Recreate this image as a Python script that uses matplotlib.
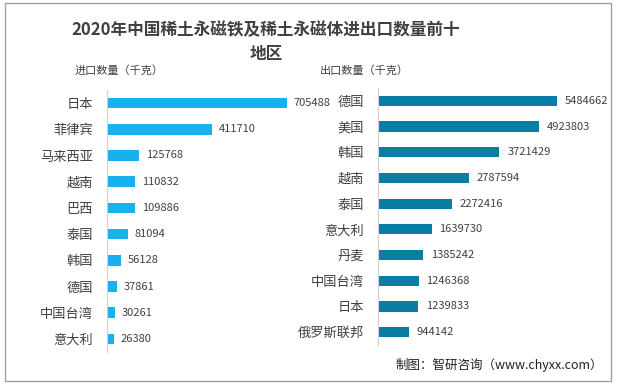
import matplotlib.pyplot as plt
from matplotlib.patches import Rectangle

plt.rcParams['font.family'] = ['Noto Sans CJK SC', 'DejaVu Sans']

# data
import_regions = ['日本', '菲律宾', '马来西亚', '越南', '巴西', '泰国', '韩国', '德国', '中国台湾', '意大利']
import_values = [705488, 411710, 125768, 110832, 109886, 81094, 56128, 37861, 30261, 26380]

export_regions = ['德国', '美国', '韩国', '越南', '泰国', '意大利', '丹麦', '中国台湾', '日本', '俄罗斯联邦']
export_values = [5484662, 4923803, 3721429, 2787594, 2272416, 1639730, 1385242, 1246368, 1239833, 944142]

W, H = 617, 385
fig = plt.figure(figsize=(W / 100, H / 100), dpi=100)
txt = '#404040'


def px_axes(x0, y0, x1, y1):
    # pixel box (top-left origin) -> figure axes
    return fig.add_axes([x0 / W, 1 - y1 / H, (x1 - x0) / W, (y1 - y0) / H])


def draw(ax, names, vals, color, xmax):
    pos = range(len(names))
    ax.barh(pos, vals, height=0.4, color=color)
    ax.set_ylim(len(names) - 0.5, -0.5)
    ax.set_xlim(0, xmax)
    ax.set_yticks(list(pos))
    ax.set_yticklabels(names, fontsize=9.5, color=txt)
    ax.set_xticks([])
    ax.tick_params(axis='y', length=0, pad=10)
    for s in ['top', 'right', 'bottom']:
        ax.spines[s].set_visible(False)
    ax.spines['left'].set_color('#d0d0d0')
    off = xmax * 0.035
    for p, v in zip(pos, vals):
        ax.text(v + off, p, str(v), va='center', ha='left', fontsize=8, color=txt)
    ax.patch.set_alpha(0)


ax1 = px_axes(107, 90, 300, 352)
draw(ax1, import_regions, import_values, '#17b1ee', 756000)

ax2 = px_axes(378, 88, 600, 345)
draw(ax2, export_regions, export_values, '#0a7da5', 6802000)

fig.text(266 / W, 1 - 30 / H, '2020年中国稀土永磁铁及稀土永磁体进出口数量前十',
         ha='center', va='center', fontsize=12, fontweight='bold', color=txt)
fig.text(266 / W, 1 - 54 / H, '地区', ha='center', va='center',
         fontsize=12, fontweight='bold', color=txt)
fig.text(75 / W, 1 - 71 / H, '进口数量（千克）', ha='left', va='center', fontsize=8, color=txt)
fig.text(320 / W, 1 - 71 / H, '出口数量（千克）', ha='left', va='center', fontsize=8, color=txt)
fig.text(603 / W, 1 - 365 / H, '制图：智研咨询（www.chyxx.com）', ha='right', va='center',
         fontsize=9, color='#202020')

fig.patches.append(Rectangle((5 / W, 1 - 381 / H), 606 / W, 378 / H, transform=fig.transFigure,
                             fill=False, edgecolor='#a0a0a0', linewidth=1))

fig.savefig('out.png', dpi=100)
